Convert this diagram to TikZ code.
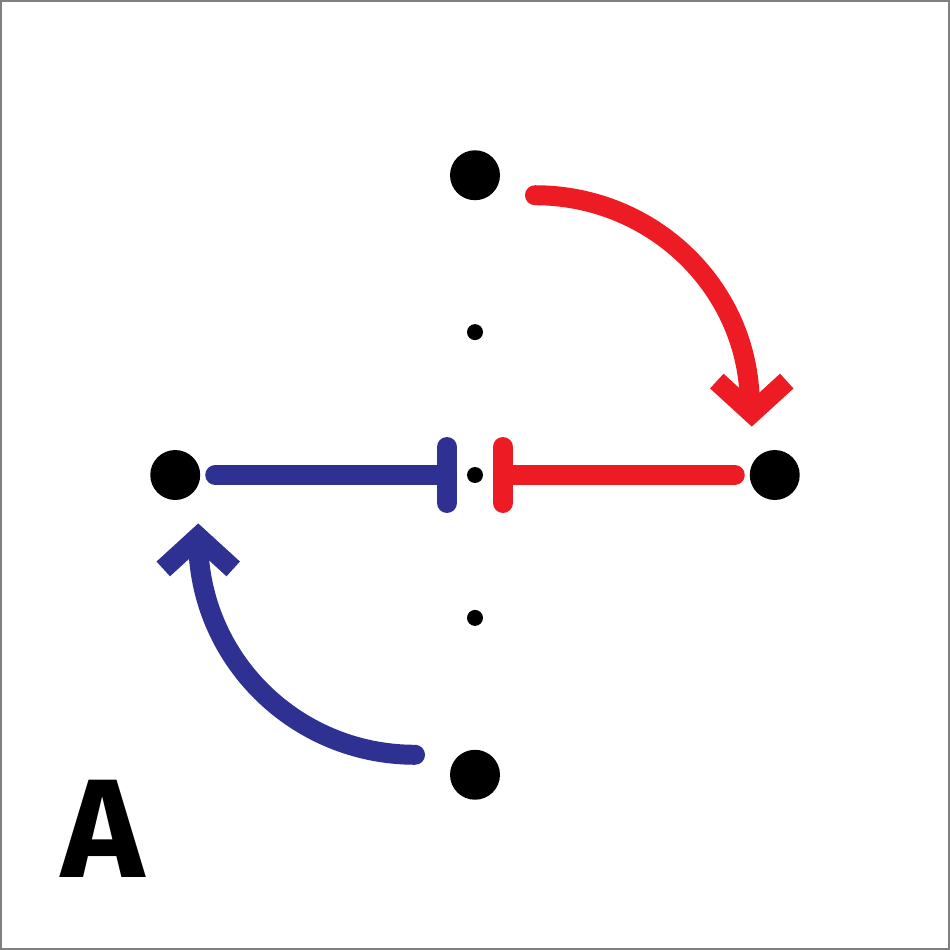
\documentclass[tikz,border=0pt]{standalone}
\usepackage{fontspec}
\setsansfont{Fira Sans}
\definecolor{myred}{HTML}{ED1C24}
\definecolor{myblue}{HTML}{2E3192}
\begin{document}
\begin{tikzpicture}[x=0.02cm,y=-0.02cm,
  big/.style={circle,fill=black,minimum size=1cm,inner sep=0},
  small/.style={circle,fill=black,minimum size=0.32cm,inner sep=0},
  thick arrow/.style={line width=0.4cm,line cap=round,line join=miter}]
\draw[gray,line width=1pt] (0.5,0.5) rectangle (949.5,949.5);
\useasboundingbox (0,0) rectangle (950,950);
\node[big] (top) at (475,175) {};
\node[big] (left) at (175,475) {};
\node[big] (right) at (775,475) {};
\node[big] (bot) at (475,775) {};
\node[small] (s1) at (475,332) {};
\node[small] (s2) at (332,475) {};
\node[small] (s3) at (475,475) {};
\node[small] (s4) at (618,475) {};
\node[small] (s5) at (475,618) {};
\coordinate (rs) at (535,195);
\coordinate (bs) at (415,755);
\coordinate (bl) at (215,475);
\coordinate (bb) at (447,475);
\coordinate (rl) at (735,475);
\coordinate (rb) at (503,475);
% red arc
\draw[myred,thick arrow] (rs) arc[start angle=90,end angle=0,x radius=215,y radius=-210];
\draw[myred,line width=0.4cm,line cap=butt] (717,381) -- (752,413) -- (787,381);
% blue arc
\draw[myblue,thick arrow] (bs) arc[start angle=270,end angle=180,x radius=217,y radius=-215];
\draw[myblue,line width=0.4cm,line cap=butt] (163,569) -- (198,537) -- (233,569);
% T bars
\draw[myblue,thick arrow] (bl) -- (bb);
\draw[myblue,thick arrow] (447,447) -- (447,503);
\draw[myred,thick arrow] (rl) -- (rb);
\draw[myred,thick arrow] (503,447) -- (503,503);
\node[font=\sffamily\bfseries\fontsize{80}{80}\selectfont,anchor=base] (A) at (103,878) {A};
\end{tikzpicture}
\end{document}
